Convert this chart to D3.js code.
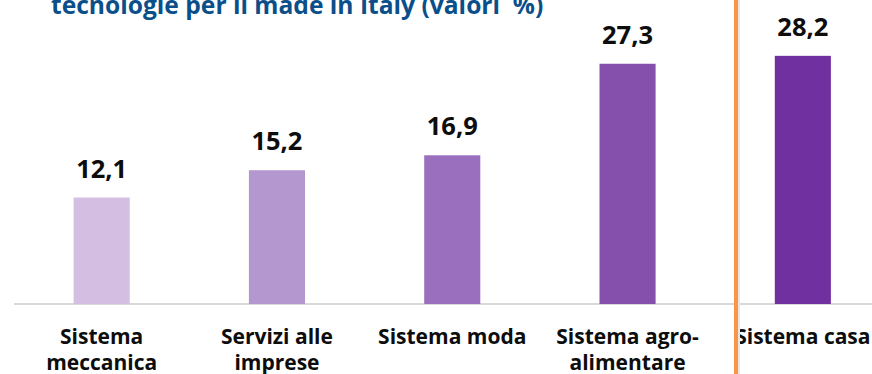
<!DOCTYPE html>
<html>
<head>
<meta charset="utf-8">
<script src="https://cdn.jsdelivr.net/npm/d3@7"></script>
<style>
  html, body { margin: 0; padding: 0; background: #fff; }
  svg { display: block; font-family: "Open Sans", "Noto Sans", sans-serif; }
</style>
</head>
<body>
<svg id="chart" width="872" height="374"></svg>
<script>
// Quota di imprese per filiera (valori %)
const categories = [
  ["Sistema", "meccanica"],
  ["Servizi alle", "imprese"],
  ["Sistema moda"],
  ["Sistema agro-", "alimentare"],
  ["Sistema casa"]
];
const values = [12.1, 15.2, 16.9, 27.3, 28.2];
const valueLabels = ["12,1", "15,2", "16,9", "27,3", "28,2"];
const barColors = ["#D4BFE2", "#B597CF", "#9A6FBE", "#8550AB", "#7030A0"];
const titleText = "tecnologie per il made in Italy (valori  %)";

const svg = d3.select("#chart");
const ids = d3.range(values.length);

const x = d3.scaleBand()
  .domain(ids)
  .range([14, 890.5])
  .paddingInner(0.68)
  .paddingOuter(0.34);

const y = d3.scaleLinear()
  .domain([0, 30])
  .range([304, 40]);

// title (partly above the visible area)
svg.append("text")
  .attr("x", 51)
  .attr("y", 14)
  .attr("fill", "#0B4F8A")
  .attr("font-size", 24.6)
  .attr("font-weight", 700)
  .style("white-space", "pre")
  .text(titleText);

// baseline
svg.append("line")
  .attr("x1", 14).attr("x2", 890)
  .attr("y1", y(0)).attr("y2", y(0))
  .attr("stroke", "#D9D9D9")
  .attr("stroke-width", 2);

// bars
svg.selectAll("rect.bar")
  .data(ids)
  .join("rect")
  .attr("class", "bar")
  .attr("x", i => x(i))
  .attr("width", x.bandwidth())
  .attr("y", i => y(values[i]))
  .attr("height", i => y(0) - y(values[i]))
  .attr("fill", i => barColors[i]);

// value labels
svg.selectAll("text.val")
  .data(ids)
  .join("text")
  .attr("class", "val")
  .attr("x", i => x(i) + x.bandwidth() / 2)
  .attr("y", i => y(values[i]) - 20)
  .attr("text-anchor", "middle")
  .attr("font-size", 25.5)
  .attr("font-weight", 700)
  .attr("fill", "#0D0D0D")
  .text(i => valueLabels[i]);

// category labels
const cat = svg.selectAll("text.cat")
  .data(ids)
  .join("text")
  .attr("class", "cat")
  .attr("text-anchor", "middle")
  .attr("font-size", 21)
  .attr("font-weight", 700)
  .attr("fill", "#0D0D0D");

cat.selectAll("tspan")
  .data(i => categories[i].map(t => ({ t, i })))
  .join("tspan")
  .attr("x", d => x(d.i) + x.bandwidth() / 2)
  .attr("y", (d, k) => 344 + k * 26)
  .text(d => d.t);

// separator line
const sepX = 736;
svg.append("line")
  .attr("x1", sepX + 3).attr("x2", sepX + 3)
  .attr("y1", 0).attr("y2", 374)
  .attr("stroke", "#E6E6E6")
  .attr("stroke-width", 2);
svg.append("line")
  .attr("x1", sepX).attr("x2", sepX)
  .attr("y1", 0).attr("y2", 374)
  .attr("stroke", "#F79646")
  .attr("stroke-width", 4);
</script>
</body>
</html>
